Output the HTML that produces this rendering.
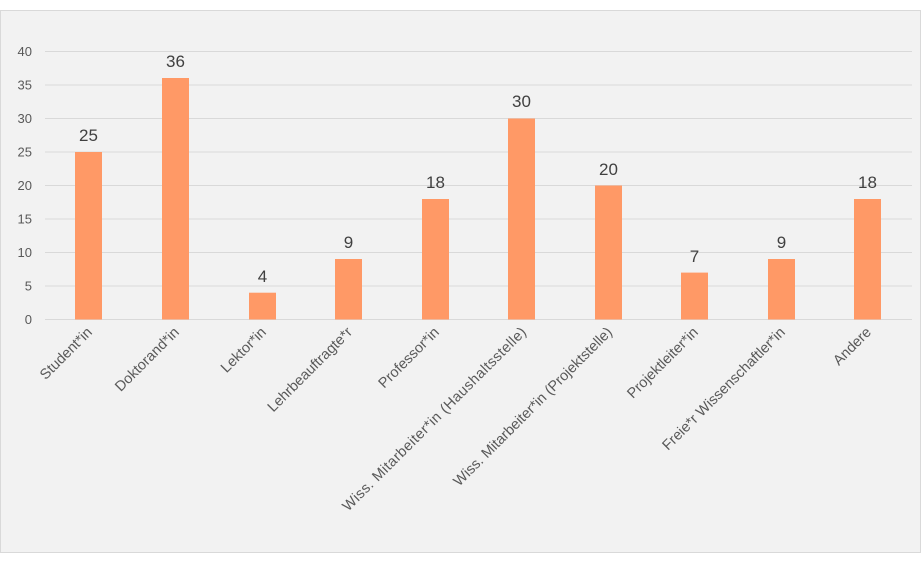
<!DOCTYPE html>
<html><head><meta charset="utf-8"><style>body{margin:0;background:#fff}</style></head><body>
<svg width="922" height="564" xmlns="http://www.w3.org/2000/svg" font-family="Liberation Sans, sans-serif">
<rect x="0.5" y="10.5" width="920" height="542" fill="#f2f2f2" stroke="#d9d9d9"/>
<g stroke="#d9d9d9" stroke-width="1">
<line x1="45" x2="912" y1="51.5" y2="51.5"/><line x1="45" x2="912" y1="85" y2="85"/>
<line x1="45" x2="912" y1="118.5" y2="118.5"/><line x1="45" x2="912" y1="152" y2="152"/>
<line x1="45" x2="912" y1="185.5" y2="185.5"/><line x1="45" x2="912" y1="219" y2="219"/>
<line x1="45" x2="912" y1="252.5" y2="252.5"/><line x1="45" x2="912" y1="286" y2="286"/>
<line x1="45" x2="912" y1="319.5" y2="319.5"/>
</g>
<g fill="#595959" font-size="13" text-anchor="end">
<text x="32" y="56">40</text><text x="32" y="89.5">35</text><text x="32" y="123">30</text>
<text x="32" y="156.5">25</text><text x="32" y="190">20</text><text x="32" y="223.5">15</text>
<text x="32" y="257">10</text><text x="32" y="290.5">5</text><text x="32" y="324">0</text>
</g>
<g fill="#ff9966">
<rect x="75" y="152" width="27" height="167.5"/>
<rect x="162" y="78" width="27" height="241.5"/>
<rect x="249" y="292.7" width="27" height="26.8"/>
<rect x="335" y="259" width="27" height="60.5"/>
<rect x="422" y="199" width="27" height="120.5"/>
<rect x="508" y="118.5" width="27" height="201"/>
<rect x="595" y="185.5" width="27" height="134"/>
<rect x="681" y="272.6" width="27" height="46.9"/>
<rect x="768" y="259" width="27" height="60.5"/>
<rect x="854" y="199" width="27" height="120.5"/>
</g>
<g fill="#404040" font-size="17" text-anchor="middle">
<text x="88.5" y="141">25</text><text x="175.5" y="67">36</text><text x="262.5" y="282">4</text>
<text x="348.5" y="248">9</text><text x="435.5" y="188">18</text><text x="521.5" y="107">30</text>
<text x="608.5" y="175">20</text><text x="694.5" y="262">7</text><text x="781.5" y="248">9</text>
<text x="867.5" y="188">18</text>
</g>
<g fill="#595959" font-size="14.5" text-anchor="end">
<text transform="translate(93,333) rotate(-45)">Student*in</text>
<text transform="translate(180,333) rotate(-45)">Doktorand*in</text>
<text transform="translate(267,333) rotate(-45)">Lektor*in</text>
<text transform="translate(353,333) rotate(-45)">Lehrbeauftragte*r</text>
<text transform="translate(440,333) rotate(-45)">Professor*in</text>
<text transform="translate(527,333) rotate(-45)" textLength="253">Wiss. Mitarbeiter*in (Haushaltsstelle)</text>
<text transform="translate(613,333) rotate(-45)">Wiss. Mitarbeiter*in (Projektstelle)</text>
<text transform="translate(699,333) rotate(-45)">Projektleiter*in</text>
<text transform="translate(786,333) rotate(-45)">Freie*r Wissenschaftler*in</text>
<text transform="translate(872,333) rotate(-45)">Andere</text>
</g>
</svg>
</body></html>
